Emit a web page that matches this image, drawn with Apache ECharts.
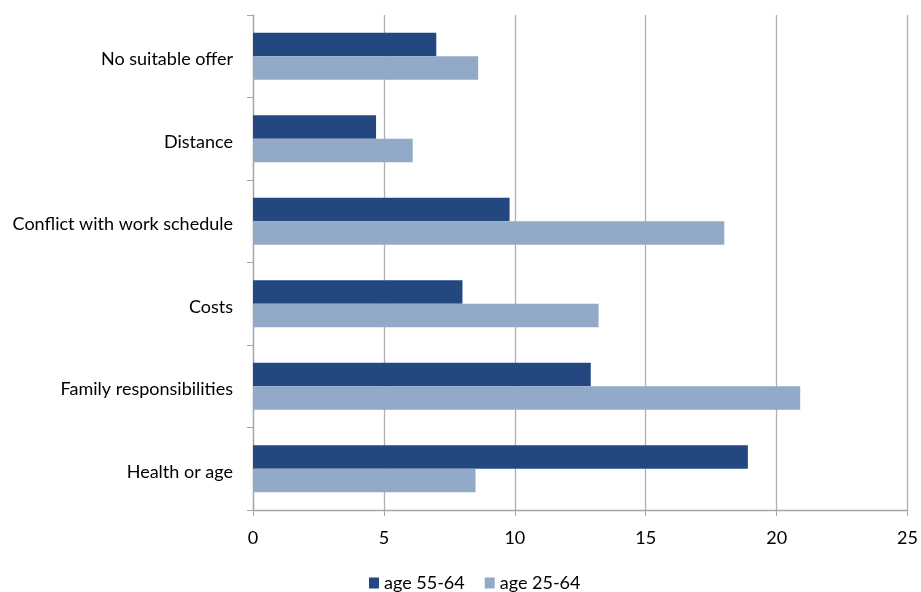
<!DOCTYPE html>
<html><head><meta charset="utf-8">
<script src="https://cdn.jsdelivr.net/npm/echarts@6/dist/echarts.min.js"></script>
<style>html,body{margin:0;padding:0;background:#fff}#c{width:921px;height:592px}</style>
</head><body><div id="c"></div>
<script>
const categories = ["Health or age", "Family responsibilities", "Costs", "Conflict with work schedule", "Distance", "No suitable offer"];
const age5564 = [18.9, 12.9, 8.0, 9.8, 4.7, 7.0];
const age2564 = [8.5, 20.9, 13.2, 18.0, 6.1, 8.6];
const xTicks = [0, 5, 10, 15, 20, 25];

const font = "Lato, 'Open Sans', sans-serif";
const chart = echarts.init(document.getElementById('c'));
chart.setOption({
  animation: false,
  textStyle: {fontFamily: font},
  grid: {left: 253, right: 12, top: 15, bottom: 82, containLabel: false},
  legend: {
    bottom: 0, padding: 0, left: 369, itemWidth: 10, itemHeight: 11, itemGap: 20,
    icon: 'rect',
    textStyle: {fontSize: 18, color: '#000', fontFamily: font},
    data: ['age 55-64', 'age 25-64']
  },
  xAxis: {
    type: 'value', min: xTicks[0], max: xTicks[xTicks.length-1], interval: 5,
    axisLine: {show: true, lineStyle: {color: '#a6a6a6', width: 1.3}},
    axisTick: {show: true, length: 6, lineStyle: {color: '#a6a6a6'}},
    splitLine: {show: true, lineStyle: {color: '#b0b0b0', width: 1.3}},
    axisLabel: {fontSize: 18, color: '#000', margin: 19, fontFamily: font}
  },
  yAxis: {
    type: 'category', data: categories,
    axisLine: {show: true, lineStyle: {color: '#a6a6a6', width: 1.3}},
    axisTick: {show: true, length: 6, lineStyle: {color: '#a6a6a6'}},
    axisLabel: {
      color: '#000', margin: 20,
      formatter: v => '{t|' + v + '}',
      rich: {t: {fontSize: 18, color: '#000', fontFamily: font, padding: [6, 0, 0, 0]}}
    }
  },
  series: [
    {name: 'age 55-64', type: 'bar', data: age5564, barGap: '0%', barCategoryGap: '43%',
     itemStyle: {color: '#23477f'}},
    {name: 'age 25-64', type: 'bar', data: age2564, barGap: '0%', barCategoryGap: '43%',
     itemStyle: {color: '#93a9c8'}}
  ]
});
</script></body></html>
